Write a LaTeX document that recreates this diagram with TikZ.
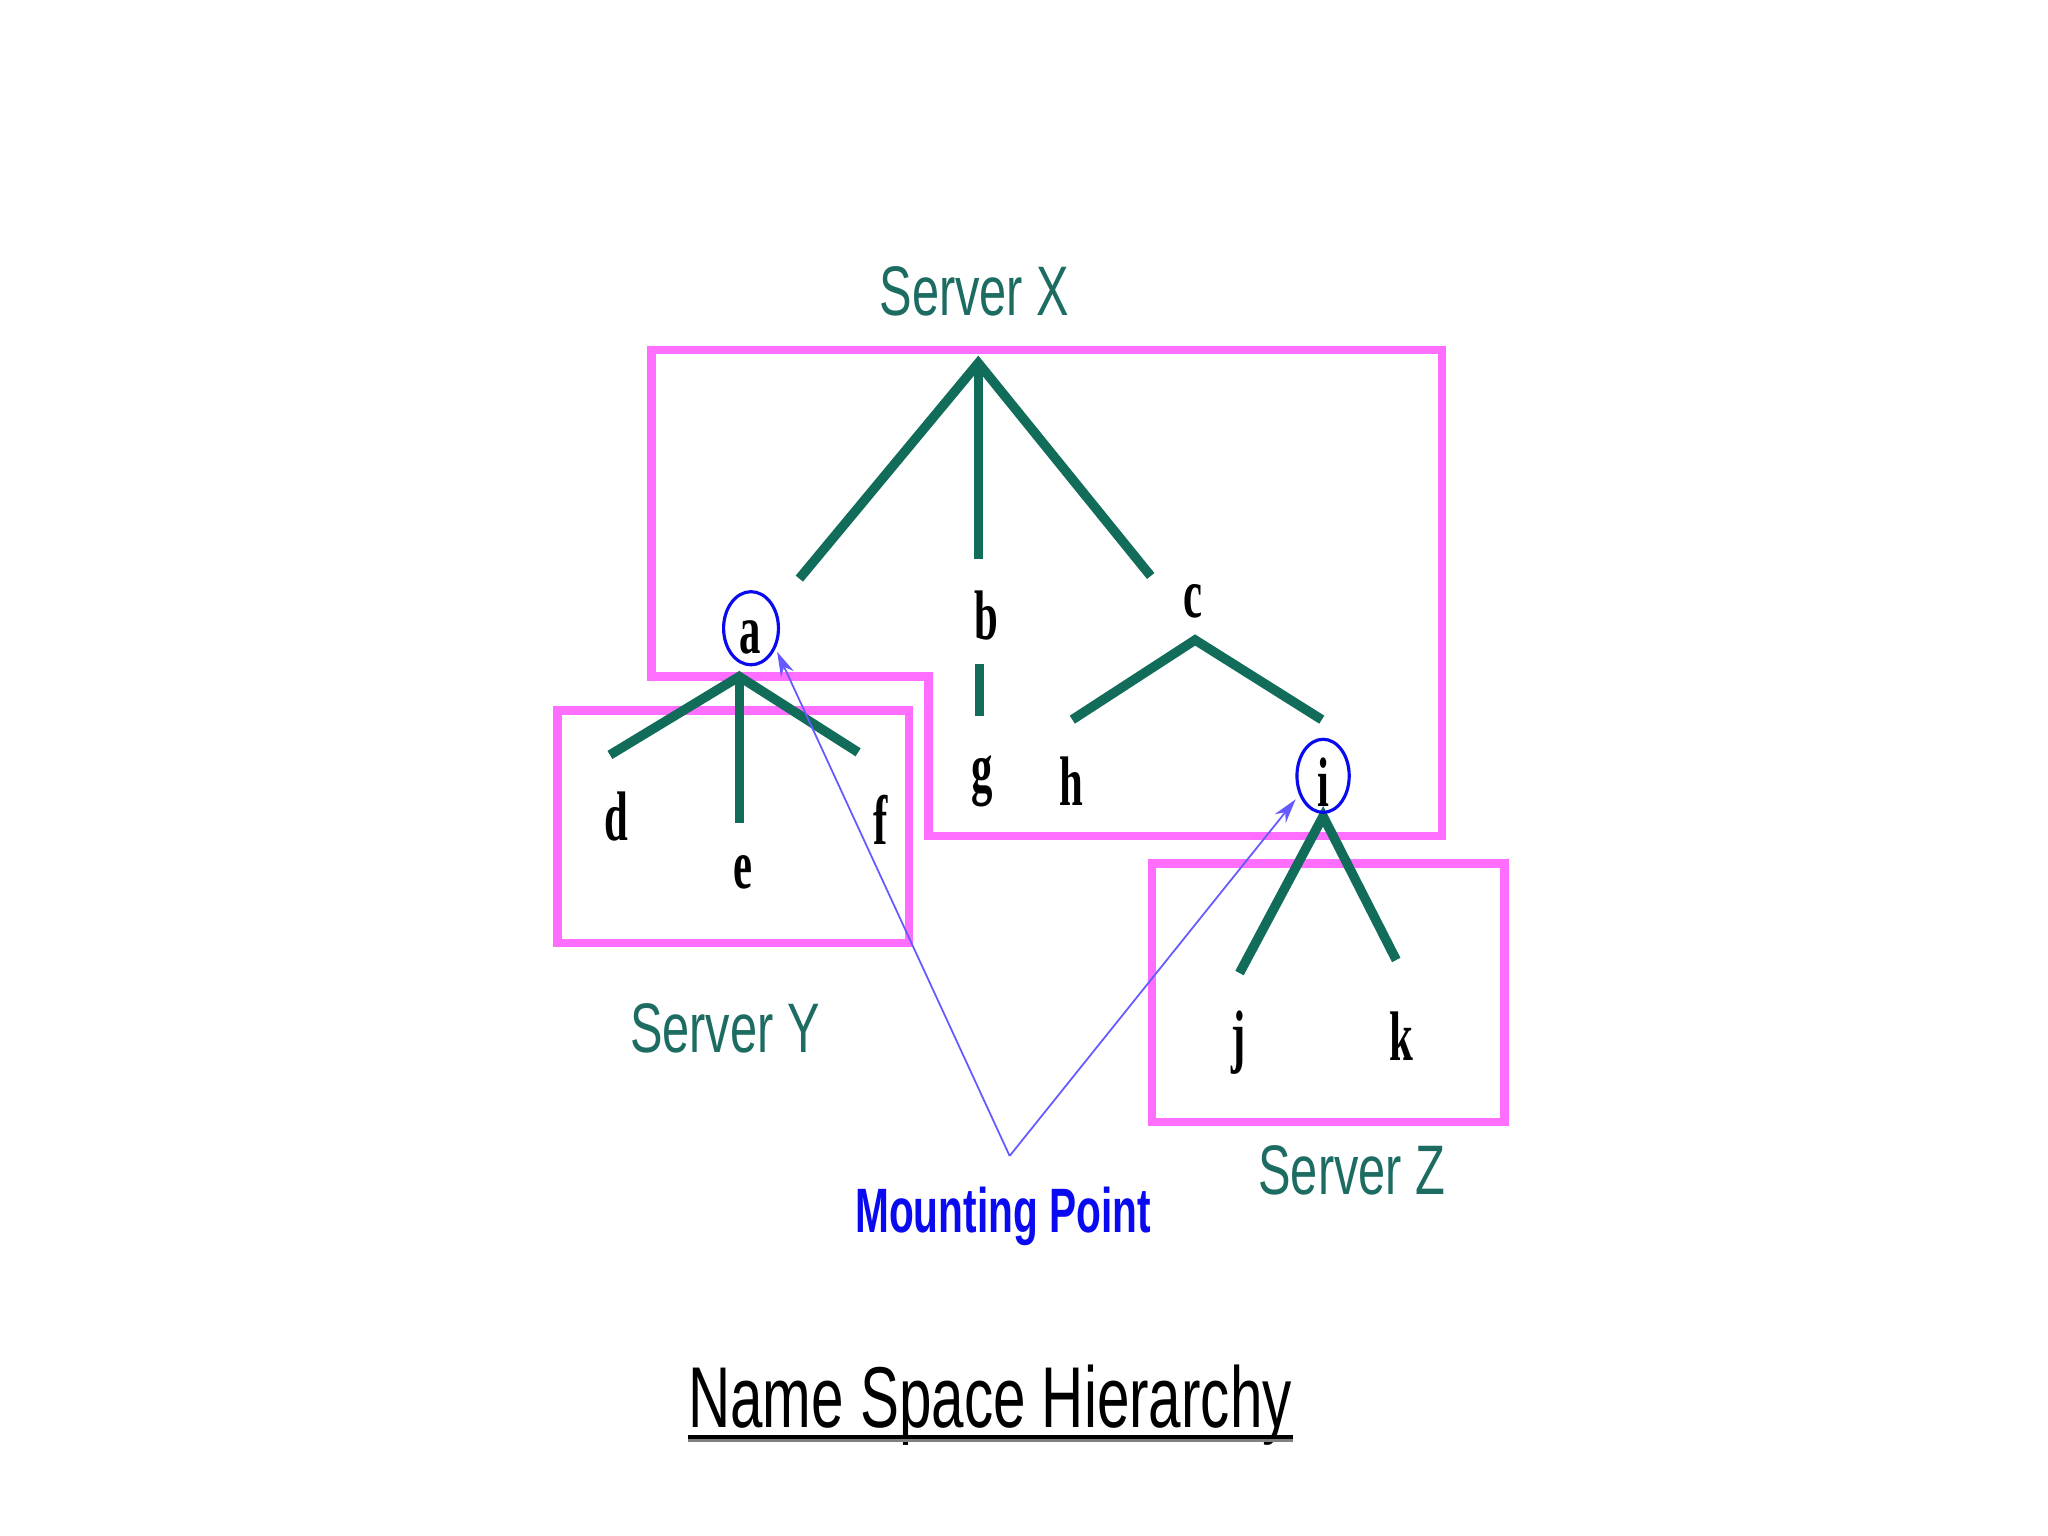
\documentclass[tikz,border=0pt]{standalone}
\usepackage{fontspec}
\usepackage{graphicx}
\setmainfont{Liberation Serif}
\newfontfamily\arialf{Liberation Sans}
\usetikzlibrary{arrows.meta}
\definecolor{treeteal}{RGB}{18,108,90}
\definecolor{labelteal}{RGB}{28,108,98}
\definecolor{boxpink}{RGB}{255,110,255}
\definecolor{mpblue}{RGB}{10,10,240}
\definecolor{arrowblue}{RGB}{100,90,255}
\tikzset{
  treeline/.style={draw=treeteal,line width=2.7pt},
  serverbox/.style={draw=boxpink,line width=2.5pt},
  leaf/.style={inner sep=0pt,font=\fontsize{19}{22}\selectfont\bfseries},
  srvlabel/.style={inner sep=0pt,text=labelteal,font=\arialf\fontsize{19}{22}\selectfont},
  mountarrow/.style={draw=arrowblue,line width=0.5pt,-{Stealth[length=7pt,width=4pt]}},
  ring/.style={draw=mpblue,line width=0.9pt},
}
\newcommand{\sq}[2][0.64]{\scalebox{#1}[1.05]{#2}}
\begin{document}
\begin{tikzpicture}[x=0.013061cm,y=-0.013061cm]
\path[use as bounding box,fill=white] (0,0) rectangle (1568,1176);

% Server boxes
\draw[serverbox] (499,268) -- (1104,268) -- (1104,640) -- (711,640) -- (711,518) -- (499,518) -- cycle;
\draw[serverbox] (427,544) rectangle (696,722);
\draw[serverbox] (882,661) rectangle (1152,859);

% tree coordinates
\coordinate (root) at (749,278);
\coordinate (aTop) at (612,443);
\coordinate (bTop) at (749,428);
\coordinate (cTop) at (881,441);
\coordinate (aJ) at (566,518);
\coordinate (dTop) at (467,578);
\coordinate (eTop) at (566,630);
\coordinate (fTop) at (657,576);
\coordinate (bBot) at (750,508);
\coordinate (gTop) at (750,548);
\coordinate (cJ) at (915,490);
\coordinate (hTop) at (821,551);
\coordinate (iTop) at (1012,551);
\coordinate (iJ) at (1013,625);
\coordinate (jTop) at (949,745);
\coordinate (kTop) at (1069,735);

% tree lines
\draw[treeline] (aTop) -- (root) -- (cTop);
\draw[treeline] (root) -- (bTop);
\draw[treeline] (dTop) -- (aJ) -- (fTop);
\draw[treeline] (aJ) -- (eTop);
\draw[treeline] (bBot) -- (gTop);
\draw[treeline] (hTop) -- (cJ) -- (iTop);
\draw[treeline] (jTop) -- (iJ) -- (kTop);

% letters
\node[leaf] (a) at (574,488) {\sq{a}};
\node[leaf] (b) at (755,471) {\sq{b}};
\node[leaf] (c) at (913,460) {\sq{c}};
\node[leaf] (d) at (472,625) {\sq{d}};
\node[leaf] (e) at (569,668) {\sq{e}};
\node[leaf] (f) at (674,628) {\sq{f}};
\node[leaf] (g) at (752,598) {\sq{g}};
\node[leaf] (h) at (820,598) {\sq{h}};
\node[leaf] (i) at (1013,599) {\sq{i}};
\node[leaf] (j) at (948,798) {\sq{j}};
\node[leaf] (k) at (1073,793) {\sq{k}};

% mount rings
\draw[ring] (575,481) ellipse [x radius=21, y radius=28];
\draw[ring] (1013,594) ellipse [x radius=20, y radius=28];
\coordinate (aRing) at (595,499);
\coordinate (iRing) at (992,612);

% labels
\node[srvlabel] (sx) at (746,223) {\sq[0.73]{Server X}};
\node[srvlabel] (sy) at (555,787) {\sq[0.73]{Server Y}};
\node[srvlabel] (sz) at (1035,896) {\sq[0.73]{Server Z}};
\node[inner sep=0pt,text=mpblue,font=\arialf\fontsize{17}{20}\selectfont\bfseries] (mp) at (768,931) {\sq[0.68]{Mounting Point}};

% mounting arrows
\coordinate (mpTip) at (773,885);
\draw[mountarrow] (mpTip) -- (aRing);
\draw[mountarrow] (mpTip) -- (iRing);

% title
\node[inner sep=0pt,font=\arialf\fontsize{23.4}{27}\selectfont] (title) at (758,1076) {\sq[0.71]{Name Space Hierarchy}};
\draw[gray,line width=1pt] ([yshift=-3.6pt]title.base west) -- ([yshift=-3.6pt]title.base east);
\draw[black,line width=1.1pt] ([yshift=-2.6pt]title.base west) -- ([yshift=-2.6pt]title.base east);
\end{tikzpicture}
\end{document}
